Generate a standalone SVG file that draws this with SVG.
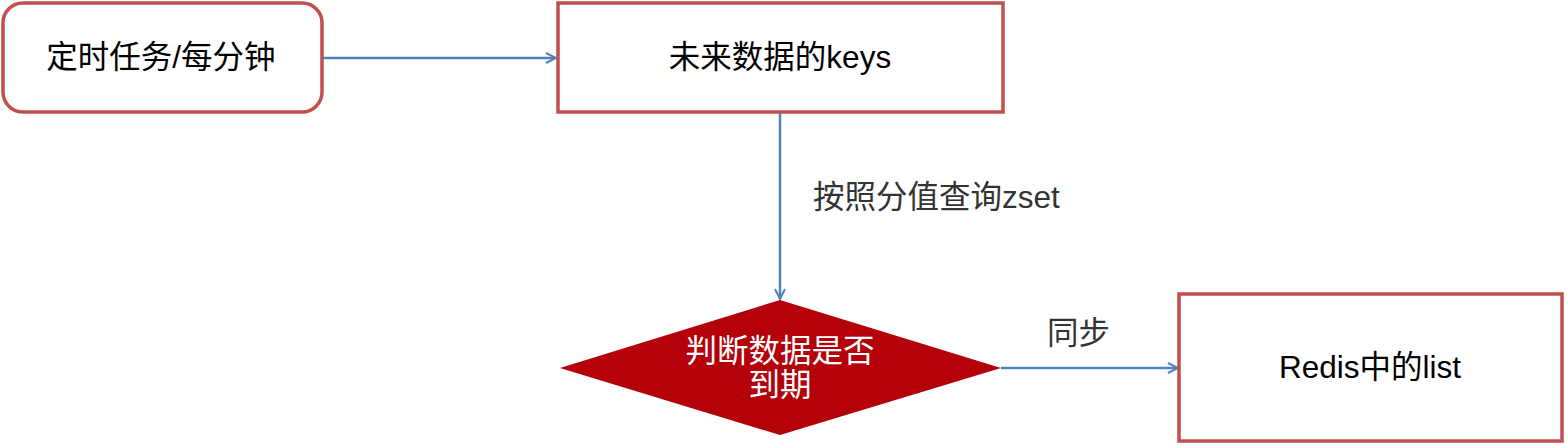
<svg xmlns="http://www.w3.org/2000/svg" width="1566" height="446" viewBox="0 0 1566 446">
<style>
.box{fill:#fff;stroke:#c0504d;stroke-width:3.5}
.t{font-family:"Liberation Sans","Noto Sans CJK SC",sans-serif;font-size:31.5px;fill:#000;text-anchor:middle;dominant-baseline:central}
.lbl{font-family:"Liberation Sans","Noto Sans CJK SC",sans-serif;font-size:31.5px;fill:#333;dominant-baseline:central}
.conn{stroke:#4f81bd;stroke-width:2.5;fill:none}
</style>
<defs>
<marker id="arr" viewBox="0 0 12 12" refX="11" refY="6" markerWidth="12" markerHeight="12" markerUnits="userSpaceOnUse" orient="auto">
<path d="M1,1 L11,6 L1,11" fill="none" stroke="#4f81bd" stroke-width="2"/>
</marker>
</defs>
<g id="connectors">
<line class="conn" x1="322" y1="58" x2="556" y2="58" marker-end="url(#arr)"/>
<line class="conn" x1="780" y1="112" x2="780" y2="299" marker-end="url(#arr)"/>
<line class="conn" x1="1001" y1="368" x2="1178" y2="368" marker-end="url(#arr)"/>
<text class="lbl" x="813" y="197">按照分值查询zset</text>
<text class="lbl" x="1047" y="333">同步</text>
</g>
<g id="node-timer">
<rect class="box" x="3" y="3" width="319" height="109" rx="20"/>
<text class="t" x="161" y="57">定时任务/每分钟</text>
</g>
<g id="node-keys">
<rect class="box" x="558" y="3" width="445" height="109"/>
<text class="t" x="780" y="57">未来数据的keys</text>
</g>
<g id="node-check">
<polygon points="560,368 780,300 1001,368 780,435" fill="#b30009"/>
<text class="t" x="780" y="351" style="fill:#fff">判断数据是否</text>
<text class="t" x="780" y="385" style="fill:#fff">到期</text>
</g>
<g id="node-list">
<rect class="box" x="1179" y="294" width="383" height="147"/>
<text class="t" x="1370" y="367">Redis中的list</text>
</g>
</svg>
